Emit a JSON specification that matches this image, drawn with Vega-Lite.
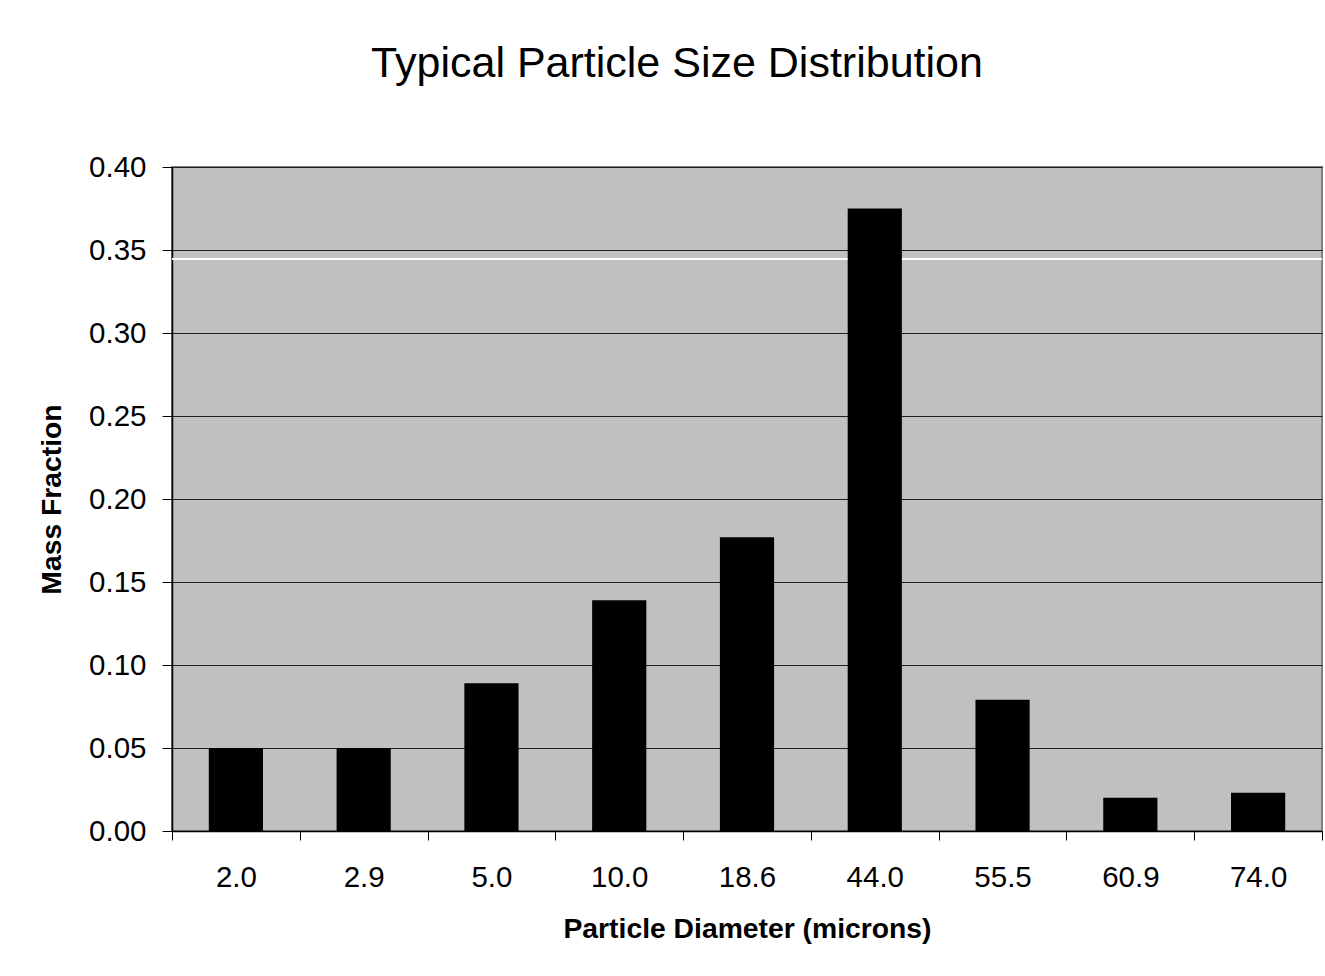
{
  "$schema": "https://vega.github.io/schema/vega-lite/v6.json",
  "width": 1150,
  "height": 664,
  "autosize": {"type": "none"},
  "padding": {"left": 172, "top": 167, "right": 3, "bottom": 145},
  "background": "white",
  "title": {
    "text": "Typical Particle Size Distribution",
    "font": "Liberation Sans",
    "fontSize": 43,
    "fontWeight": "normal",
    "color": "black",
    "anchor": "middle",
    "dx": -70,
    "offset": 66
  },
  "data": {
    "values": [
      {"diameter": "2.0", "fraction": 0.05},
      {"diameter": "2.9", "fraction": 0.05},
      {"diameter": "5.0", "fraction": 0.089},
      {"diameter": "10.0", "fraction": 0.139},
      {"diameter": "18.6", "fraction": 0.177},
      {"diameter": "44.0", "fraction": 0.375},
      {"diameter": "55.5", "fraction": 0.079},
      {"diameter": "60.9", "fraction": 0.02},
      {"diameter": "74.0", "fraction": 0.023}
    ]
  },
  "layer": [
    {
      "mark": {"type": "rule", "color": "white", "strokeWidth": 1.5},
      "encoding": {"y": {"datum": 0.3445, "type": "quantitative"}}
    },
    {
      "mark": {"type": "bar", "color": "black", "width": {"band": 0.424}},
      "encoding": {
        "x": {
          "field": "diameter",
          "type": "nominal",
          "sort": null,
          "scale": {"paddingInner": 0, "paddingOuter": 0},
          "axis": {
            "title": "Particle Diameter (microns)",
            "labelAngle": 0,
            "tickBand": "extent",
            "tickSize": 9,
            "tickColor": "black",
            "domainColor": "black",
            "domainWidth": 1.5,
            "labelPadding": 23,
            "titlePadding": 24,
            "grid": false
          }
        },
        "y": {
          "field": "fraction",
          "type": "quantitative",
          "scale": {"domain": [0, 0.4], "nice": false},
          "axis": {
            "title": "Mass Fraction",
            "values": [0, 0.05, 0.1, 0.15, 0.2, 0.25, 0.3, 0.35, 0.4],
            "format": ".2f",
            "tickSize": 10,
            "tickColor": "black",
            "domainColor": "black",
            "domainWidth": 1.5,
            "labelPadding": 16,
            "titlePadding": 22,
            "grid": true,
            "gridColor": "#202020",
            "gridWidth": 1.2
          }
        }
      }
    }
  ],
  "config": {
    "font": "Liberation Sans",
    "view": {"fill": "#C0C0C0", "stroke": "#808080", "strokeWidth": 2},
    "axis": {
      "labelFont": "Liberation Sans",
      "labelFontSize": 29.5,
      "labelColor": "black",
      "titleFont": "Liberation Sans",
      "titleFontSize": 28.3,
      "titleFontWeight": "bold",
      "titleColor": "black"
    }
  }
}
